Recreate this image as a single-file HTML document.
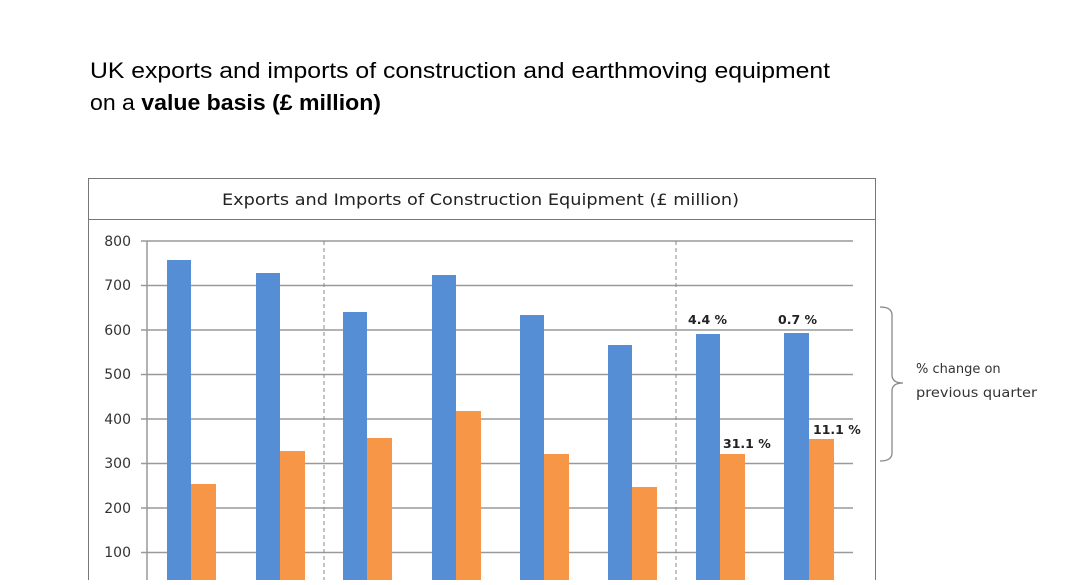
<!DOCTYPE html>
<html><head><meta charset="utf-8"><style>
body{margin:0;width:1068px;height:580px;overflow:hidden;background:#fff;font-family:"Liberation Sans","DejaVu Sans",sans-serif}
</style></head><body>
<svg width="1068" height="580" xmlns="http://www.w3.org/2000/svg" font-family="'DejaVu Sans','Liberation Sans',sans-serif">
<text x="90" y="78" font-size="22" font-family="'Liberation Sans',sans-serif" fill="#000" textLength="740" lengthAdjust="spacingAndGlyphs">UK exports and imports of construction and earthmoving equipment</text>
<text x="90" y="110" font-size="22" font-family="'Liberation Sans',sans-serif" fill="#000" textLength="291" lengthAdjust="spacingAndGlyphs">on a <tspan font-weight="bold">value basis (£ million)</tspan></text>
<rect x="88.5" y="178.5" width="787" height="41" fill="#fff" stroke="#777"/>
<text x="222" y="205" font-size="16" fill="#222" textLength="517" lengthAdjust="spacingAndGlyphs">Exports and Imports of Construction  Equipment  (£ million)</text>
<line x1="875.5" y1="220" x2="875.5" y2="580" stroke="#777"/>
<line x1="88.5" y1="220" x2="88.5" y2="580" stroke="#777"/>
<g stroke="#999" stroke-width="1.5">
<line x1="141" y1="241" x2="853" y2="241"/><line x1="141" y1="285.5" x2="853" y2="285.5"/>
<line x1="141" y1="330" x2="853" y2="330"/><line x1="141" y1="374.5" x2="853" y2="374.5"/>
<line x1="141" y1="419" x2="853" y2="419"/><line x1="141" y1="463.5" x2="853" y2="463.5"/>
<line x1="141" y1="508" x2="853" y2="508"/><line x1="141" y1="552.5" x2="853" y2="552.5"/>
<line x1="147" y1="241" x2="147" y2="580"/>
</g>
<g stroke="#888" stroke-dasharray="4,3"><line x1="324" y1="241" x2="324" y2="580"/><line x1="676" y1="241" x2="676" y2="580"/></g>
<g font-size="14" fill="#333" text-anchor="end">
<text x="131" y="246">800</text><text x="131" y="290">700</text><text x="131" y="335">600</text><text x="131" y="379">500</text><text x="131" y="424">400</text><text x="131" y="468">300</text><text x="131" y="513">200</text><text x="131" y="557">100</text>
</g>
<g fill="#558ed5">
<rect x="167" y="260" width="24" height="320"/><rect x="256" y="273" width="24" height="307"/>
<rect x="343" y="312" width="24" height="268"/><rect x="432" y="275" width="24" height="305"/>
<rect x="520" y="315" width="24" height="265"/><rect x="608" y="345" width="24" height="235"/>
<rect x="696" y="334" width="24" height="246"/><rect x="784" y="333" width="25" height="247"/>
</g>
<g fill="#f79646">
<rect x="191" y="484" width="25" height="96"/><rect x="280" y="451" width="25" height="129"/>
<rect x="367" y="438" width="25" height="142"/><rect x="456" y="411" width="25" height="169"/>
<rect x="544" y="454" width="25" height="126"/><rect x="632" y="487" width="25" height="93"/>
<rect x="720" y="454" width="25" height="126"/><rect x="809" y="439" width="25" height="141"/>
</g>
<g font-size="12.5" font-weight="bold" fill="#222">
<text x="688" y="324">4.4 %</text><text x="778" y="324">0.7 %</text>
<text x="723" y="448">31.1 %</text><text x="813" y="434">11.1 %</text>
</g>
<path d="M880,307 Q892,307 892,315 L892,375 Q892,383 903,383 Q892,383 892,391 L892,453 Q892,461 880,461" fill="none" stroke="#888" stroke-width="1.3"/>
<text x="916" y="373" font-size="13" fill="#333">% change on</text>
<text x="916" y="397" font-size="13" fill="#333" textLength="121" lengthAdjust="spacingAndGlyphs">previous quarter</text>
</svg>
</body></html>
